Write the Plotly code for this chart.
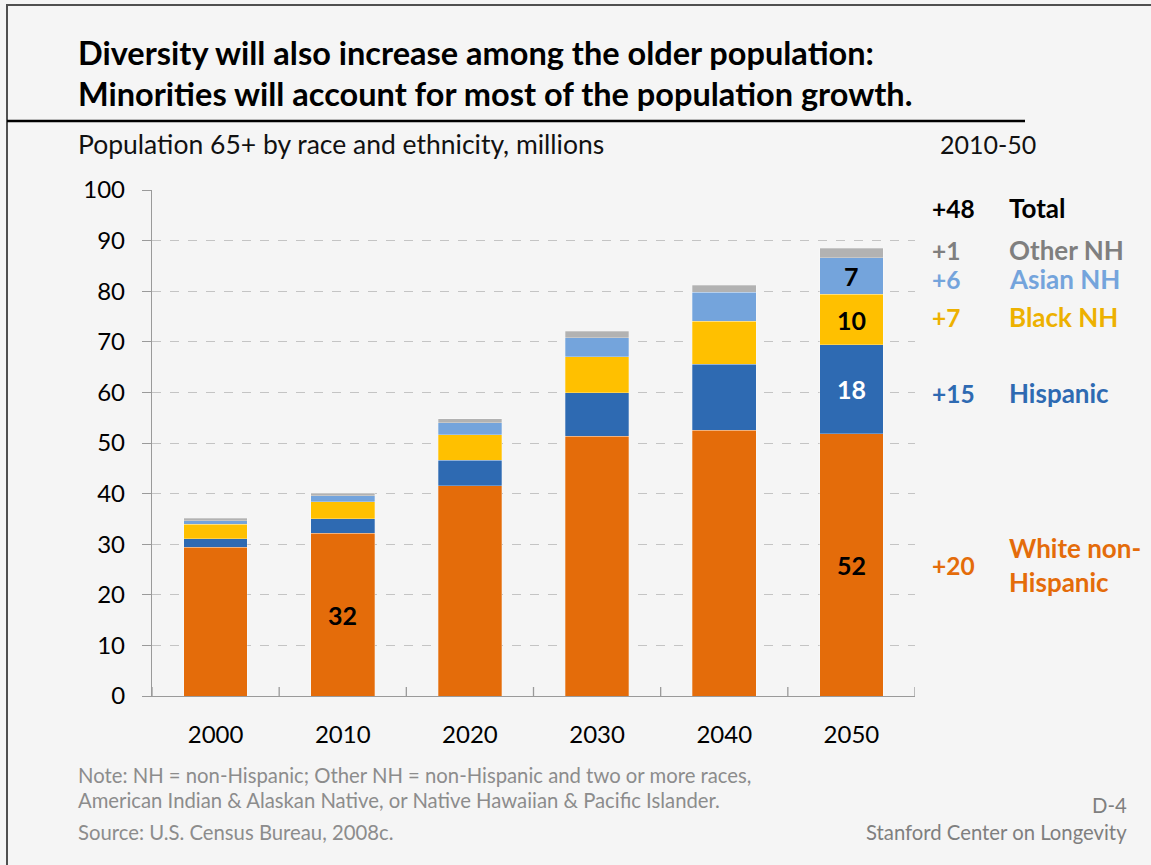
import plotly.graph_objects as go

# Population 65+ by race and ethnicity, millions
years = ["2000", "2010", "2020", "2030", "2040", "2050"]
white_nh = [29.4, 32.2, 41.6, 51.3, 52.5, 51.8]
hispanic = [1.7, 2.85, 5.0, 8.65, 13.05, 17.6]
black_nh = [2.8, 3.35, 5.0, 7.05, 8.55, 10.0]
asian_nh = [0.75, 1.2, 2.4, 3.8, 5.7, 7.2]
other_nh = [0.45, 0.5, 0.8, 1.3, 1.4, 1.9]

series_names = ["White non-Hispanic", "Hispanic", "Black NH", "Asian NH", "Other NH"]
series_values = [white_nh, hispanic, black_nh, asian_nh, other_nh]
bar_colors = ["#E46C0A", "#2E6AB2", "#FFC000", "#74A4DC", "#B2B2B2"]
text_colors = ["#E46C0A", "#2E6AB2", "#EDB100", "#74A4DC", "#7F7F7F"]

y_ticks = list(range(0, 101, 10))

FONT = "Lato"

# plot area in pixels
L, R, T, B = 152, 915, 190, 696


def px(x):
    return (x - L) / (R - L)


def py(y):
    return (B - y) / (B - T)


fig = go.Figure()
for name, vals, col in zip(series_names, series_values, bar_colors):
    fig.add_trace(go.Bar(
        x=years, y=vals, name=name, width=0.5,
        marker=dict(color=col, line=dict(color="rgba(255,255,255,0.35)", width=0.8)),
        hoverinfo="x+y+name",
    ))

annotations = []


# value labels inside selected segments (x given as category index)
def seg_label(series_idx, year_idx, color):
    base = sum(series_values[k][year_idx] for k in range(series_idx))
    v = series_values[series_idx][year_idx]
    annotations.append(dict(
        x=year_idx, y=base + v / 2, xref="x", yref="y",
        text=f"<b>{v:.0f}</b>", showarrow=False,
        font=dict(family=FONT, size=25, color=color),
        xanchor="center", yanchor="middle",
    ))


seg_label(0, 1, "#000000")
seg_label(0, 5, "#000000")
seg_label(1, 5, "#FFFFFF")
seg_label(2, 5, "#000000")
seg_label(3, 5, "#000000")

# 2010-50 change column
i0, i1 = years.index("2010"), years.index("2050")
total0 = sum(s[i0] for s in series_values)
total1 = sum(s[i1] for s in series_values)
change_rows = [
    (f"+{total1 - total0:.0f}", "Total", "#000000", 208),
    (f"+{other_nh[i1] - other_nh[i0]:.0f}", "Other NH", text_colors[4], 250),
    (f"+{asian_nh[i1] - asian_nh[i0]:.0f}", "Asian NH", text_colors[3], 279),
    (f"+{black_nh[i1] - black_nh[i0]:.0f}", "Black NH", text_colors[2], 317),
    (f"+{hispanic[i1] - hispanic[i0]:.0f}", "Hispanic", text_colors[1], 393),
    (f"+{white_nh[i1] - white_nh[i0]:.0f}", "White non-<br>Hispanic", text_colors[0], 565),
]
for num, label, col, ypos in change_rows:
    annotations.append(dict(
        x=px(930), y=py(ypos), xref="paper", yref="paper", text=f"<b>{num}</b>",
        showarrow=False, xanchor="left", yanchor="middle",
        font=dict(family=FONT, size=24.5, color=col),
    ))
    annotations.append(dict(
        x=px(1007), y=py(ypos), xref="paper", yref="paper", text=f"<b>{label}</b>",
        showarrow=False, xanchor="left", yanchor="middle", align="left",
        font=dict(family=FONT, size=26, color=col),
    ))


# headings and notes
def text(x, y, s, size, color="#000000", anchor="left", bold=False):
    annotations.append(dict(
        x=px(x), y=py(y), xref="paper", yref="paper",
        text=f"<b>{s}</b>" if bold else s, showarrow=False,
        xanchor=anchor, yanchor="middle", align=anchor,
        font=dict(family=FONT, size=size, color=color),
    ))


text(76, 52, "Diversity will also increase among the older population:", 32.5, bold=True)
text(76, 93, "Minorities will account for most of the population growth.", 32.5, bold=True)
text(76, 144, "Population 65+ by race and ethnicity, millions", 26.5, "#111111")
text(1038, 144, "2010-50", 25, "#111111", anchor="right")
text(76, 775, "Note: NH = non-Hispanic; Other NH = non-Hispanic and two or more races,", 20.3, "#8C8C8C")
text(76, 800, "American Indian &amp; Alaskan Native, or Native Hawaiian &amp; Pacific Islander.", 20.3, "#8C8C8C")
text(76, 832, "Source: U.S. Census Bureau, 2008c.", 20.3, "#8C8C8C")
text(1129, 805, "D-4", 20.3, "#7F7F7F", anchor="right")
text(1129, 832, "Stanford Center on Longevity", 20.3, "#7F7F7F", anchor="right")

shapes = [
    # slide frame
    dict(type="rect", xref="paper", yref="paper", x0=px(7), x1=px(1180), y0=py(5), y1=py(900),
         line=dict(color="#505050", width=2), layer="above"),
    # rule below the heading
    dict(type="line", xref="paper", yref="paper", x0=px(7), x1=px(1025), y0=py(121), y1=py(121),
         line=dict(color="#000000", width=2.5)),
]
# cross tick marks between categories
for k in range(len(years) + 1):
    shapes.append(dict(
        type="line", xref="x", yref="y", x0=k - 0.5, x1=k - 0.5,
        ysizemode="pixel", yanchor=0, y0=-9, y1=9,
        line=dict(color="#9A9A9A", width=1.3), layer="above",
    ))

fig.update_layout(
    barmode="stack",
    width=1151, height=865,
    margin=dict(l=L, r=1151 - R, t=T, b=865 - B),
    paper_bgcolor="#F5F5F5", plot_bgcolor="#F5F5F5",
    showlegend=False,
    annotations=annotations,
    shapes=shapes,
    font=dict(family=FONT, color="#000000"),
)
fig.update_xaxes(
    type="category", range=[-0.5, len(years) - 0.5],
    showline=True, linecolor="#9A9A9A", linewidth=1.3,
    ticks="", showgrid=False,
    tickfont=dict(family=FONT, size=24, color="#000000"),
    ticklabelstandoff=17,
)
fig.update_yaxes(
    range=[0, 100], tickvals=y_ticks,
    showline=True, linecolor="#9A9A9A", linewidth=1.3,
    ticks="outside", ticklen=9, tickcolor="#9A9A9A", tickwidth=1.3,
    showgrid=True, gridcolor="#C4C4C4", griddash="dash", gridwidth=1,
    zeroline=False,
    tickfont=dict(family=FONT, size=24, color="#000000"),
    ticklabelstandoff=12,
)

fig.write_html("out.html")
